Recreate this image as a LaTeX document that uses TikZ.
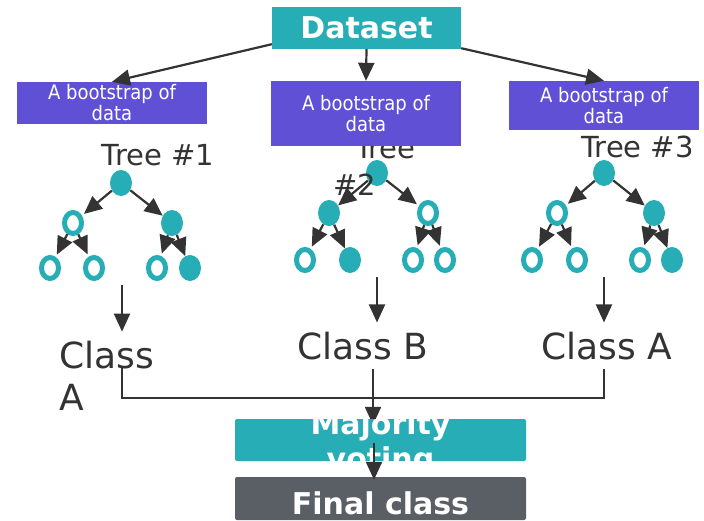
\documentclass[tikz,border=0pt]{standalone}
\usepackage{fontspec}
\setmainfont{DejaVu Sans}
\newfontfamily\condfont{DejaVu Sans Condensed}
\usetikzlibrary{shapes.geometric,arrows.meta}
\definecolor{tealc}{HTML}{27ADB5}
\definecolor{purplec}{HTML}{5F50D6}
\definecolor{slatec}{HTML}{5A5F66}
\definecolor{ink}{HTML}{333333}
\pgfdeclarelayer{back}
\pgfsetlayers{back,main}
\begin{document}
\begin{tikzpicture}[x=1pt,y=-1pt,
  arr/.style={draw=ink, line width=2.2pt, -{Triangle[length=18pt,width=16pt]}},
  toring/.style={arr, shorten >=2.5pt},
  conn/.style={draw=ink, line width=2pt},
  full/.style={ellipse, fill=tealc, inner sep=0pt, minimum width=22pt, minimum height=26pt},
  ring/.style={ellipse, draw=tealc, fill=white, line width=5pt, inner sep=0pt, minimum width=17pt, minimum height=21pt},
  treelab/.style={text=ink, inner sep=0pt, font=\fontsize{29}{37}\selectfont},
  cls/.style={text=ink, inner xsep=0pt, inner ysep=9pt, font=\fontsize{36}{42}\selectfont},
  boot/.style={fill=purplec, text=white, inner sep=0pt, minimum width=190pt, align=center,
    font=\condfont\fontsize{20}{21}\selectfont},
  banner/.style={fill=tealc, text=white, inner sep=0pt, font=\bfseries\fontsize{30}{35}\selectfont},
]
\useasboundingbox (0,0) rectangle (704,520);

% ---- Tree 1 ----
\node[full] (t1r) at (121,183) {};
\node[ring] (t1a) at (73,223) {};
\node[full] (t1b) at (172,223) {};
\node[ring] (t1aa) at (50,268) {};
\node[ring] (t1ab) at (94,268) {};
\node[ring] (t1ba) at (157,268) {};
\node[full] (t1bb) at (190,268) {};
\draw[toring] (t1r) -- (t1a);
\draw[arr] (t1r) -- (t1b);
\draw[toring] (t1a) -- (t1aa);
\draw[toring] (t1a) -- (t1ab);
\draw[toring] (t1b) -- (t1ba);
\draw[arr] (t1b) -- (t1bb);

% ---- Tree 2 ----
\node[full] (t2r) at (377,173) {};
\node[full] (t2a) at (329,213) {};
\node[ring] (t2b) at (428,213) {};
\node[ring] (t2aa) at (305,260) {};
\node[full] (t2ab) at (350,260) {};
\node[ring] (t2ba) at (413,260) {};
\node[ring] (t2bb) at (445,260) {};
\draw[arr] (t2r) -- (t2a);
\draw[toring] (t2r) -- (t2b);
\draw[toring] (t2a) -- (t2aa);
\draw[arr] (t2a) -- (t2ab);
\draw[toring] (t2b) -- (t2ba);
\draw[toring] (t2b) -- (t2bb);

% ---- Tree 3 ----
\node[full] (t3r) at (604,173) {};
\node[ring] (t3a) at (557,213) {};
\node[full] (t3b) at (654,213) {};
\node[ring] (t3aa) at (532,260) {};
\node[ring] (t3ab) at (577,260) {};
\node[ring] (t3ba) at (640,260) {};
\node[full] (t3bb) at (672,260) {};
\draw[toring] (t3r) -- (t3a);
\draw[arr] (t3r) -- (t3b);
\draw[toring] (t3a) -- (t3aa);
\draw[toring] (t3a) -- (t3ab);
\draw[toring] (t3b) -- (t3ba);
\draw[arr] (t3b) -- (t3bb);

% ---- Tree captions ----
\node[treelab, anchor=base] (l1) at (158,165) {Tree \#1};
\node[treelab, anchor=north west, align=left] (l2) at (333,137) {\hspace*{22pt}Tree\\\#2};
\node[treelab, anchor=base] (l3) at (637.5,157) {Tree \#3};

% ---- Bootstrap samples and dataset ----
\node[boot, minimum height=42pt] (b1) at (112,103) {A bootstrap of\\data};
\node[boot, minimum height=65pt] (b2) at (366,113.5) {A bootstrap of\\data};
\node[boot, minimum height=49pt] (b3) at (604,105.5) {A bootstrap of\\data};
\node[banner, minimum width=189pt, minimum height=42pt] (ds) at (366.5,28) {Dataset};
\draw[arr] ([yshift=5pt]ds.south west) -- (b1.north);
\draw[arr] (ds.south) -- (b2.north);
\draw[arr] ([yshift=1pt]ds.south east) -- (b3.north);

% ---- Class outputs ----
\node[cls, anchor=north west, align=left] (c1) at (59,331.6) {Class\\A};
\node[cls, anchor=base] (c2) at (363,359) {Class B};
\node[cls, anchor=base] (c3) at (607,359) {Class A};
\coordinate (o1) at (122,285);
\coordinate (o2) at (377,277);
\coordinate (o3) at (604,277);
\draw[arr] (o1) -- (o1 |- c1.north);
\draw[arr] (o2) -- (o2 |- c2.north);
\draw[arr] (o3) -- (o3 |- c3.north);

% ---- Voting ----
\node[banner, rounded corners=2pt, minimum width=291pt, minimum height=42pt,
  path picture={\node[text=white, align=center, font=\bfseries\fontsize{30}{35}\selectfont]
    at ([yshift=-3.5pt]path picture bounding box.center) {Majority\\voting};}] (maj) at (380.5,440) {};
\node[banner, fill=slatec, rounded corners=2pt, minimum width=291pt, minimum height=43pt,
  text height=31.8pt, text depth=0pt] (fin) at (380.5,498.5) {Final class};

\coordinate (c1out) at (122,368);
\coordinate (jr) at (604,398);
\coordinate (vx) at (373,0);
\coordinate (vy) at (374,0);
\draw[conn] (c1out) |- (jr) -- (jr |- c3.south);
\begin{pgfonlayer}{back}
  \draw[arr, shorten >=-6pt] (c2.south -| vx) -- (maj.north -| vx);
\end{pgfonlayer}
\draw[arr, shorten >=-3pt] ([yshift=-3pt]maj.center -| vy) -- (fin.north -| vy);
\end{tikzpicture}
\end{document}
